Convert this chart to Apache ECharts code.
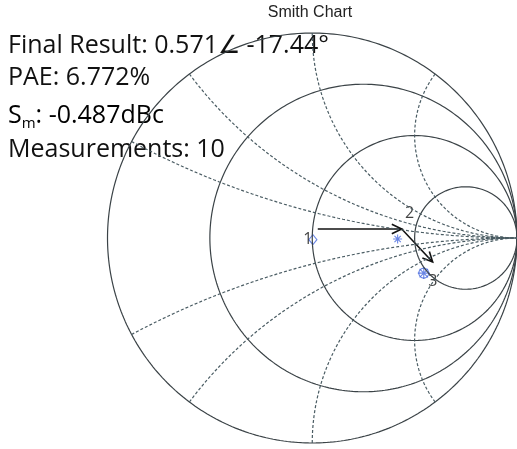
<!DOCTYPE html>
<html>
<head>
<meta charset="utf-8">
<script src="https://cdn.jsdelivr.net/npm/echarts@6/dist/echarts.min.js"></script>
<style>
  html, body { margin: 0; padding: 0; background: #ffffff; }
  #chart { width: 517px; height: 449px; }
</style>
</head>
<body>
<div id="chart"></div>
<script>
// Smith chart grid: constant-resistance circles and constant-reactance arcs
const resistanceCircles = [0, 1 / 3, 1, 3];
const reactanceArcs = [0.25, 0.5, 1, 2, -0.25, -0.5, -1, -2];

// Reflection coefficient states of the tuning run (real, imag)
const startState = [0.003, -0.008];
const probeState = [0.417, -0.005];
const finalMagnitude = 0.571;
const finalAngleDeg = -17.44;

// Tuner movement path drawn as arrows (real, imag)
const movePath = [[0.027, 0.044], [0.437, 0.044], [0.588, -0.117]];

// State numbers shown beside the markers
const stateLabels = ['1', '2', '3'];

// Result summary text
const resultLines = {
  result: 'Final Result: 0.571\u2220 -17.44\u00b0',
  pae: 'PAE: 6.772%',
  smLabel: 'S',
  smSub: 'm',
  smValue: ': -0.487dBc',
  count: 'Measurements: 10'
};
const titleText = 'Smith Chart';

// ---- geometry of the grid curves ----
function resistanceCurve(r) {
  const c = r / (1 + r), rad = 1 / (1 + r), pts = [];
  for (let d = 0; d <= 360; d += 1) {
    const a = d * Math.PI / 180;
    pts.push([c + rad * Math.cos(a), rad * Math.sin(a)]);
  }
  return pts;
}
function reactanceCurve(x) {
  const pts = [];
  for (let t = 0; t < 1; t += 0.002) {
    const r = t / (1 - t);
    const den = (r + 1) * (r + 1) + x * x;
    pts.push([(r * r - 1 + x * x) / den, 2 * x / den]);
  }
  pts.push([1, 0]);
  return pts;
}

const solidColor = '#3b4347';
const dashColor = '#4a5c63';
const markerBlue = '#4466dd';

const series = [];
resistanceCircles.forEach(function (r) {
  series.push({
    type: 'line', data: resistanceCurve(r), showSymbol: false, silent: true,
    clip: false, lineStyle: { color: solidColor, width: 1.2 }
  });
});
reactanceArcs.forEach(function (x) {
  series.push({
    type: 'line', data: reactanceCurve(x), showSymbol: false, silent: true,
    clip: false, lineStyle: { color: dashColor, width: 1.2, type: [3, 2] }
  });
});

// movement arrows with open heads
const segments = [];
for (let i = 0; i < movePath.length - 1; i++) {
  segments.push([movePath[i][0], movePath[i][1], movePath[i + 1][0], movePath[i + 1][1]]);
}
series.push({
  type: 'custom', data: segments, silent: true, clip: false,
  renderItem: function (params, api) {
    const a = api.coord([api.value(0), api.value(1)]);
    const b = api.coord([api.value(2), api.value(3)]);
    const ang = Math.atan2(b[1] - a[1], b[0] - a[0]);
    const len = 11, spread = 0.45;
    const h1 = [b[0] - len * Math.cos(ang - spread), b[1] - len * Math.sin(ang - spread)];
    const h2 = [b[0] - len * Math.cos(ang + spread), b[1] - len * Math.sin(ang + spread)];
    const st = { stroke: '#111111', lineWidth: 1.6, fill: null };
    return {
      type: 'group',
      children: [
        { type: 'line', shape: { x1: a[0], y1: a[1], x2: b[0], y2: b[1] }, style: st },
        { type: 'polyline', shape: { points: [h1, b, h2] }, style: st }
      ]
    };
  }
});

const asteriskPath = 'path://M5,0L5,10M0,5L10,5M1.5,1.5L8.5,8.5M1.5,8.5L8.5,1.5';
const finalState = [
  finalMagnitude * Math.cos(finalAngleDeg * Math.PI / 180),
  finalMagnitude * Math.sin(finalAngleDeg * Math.PI / 180)
];
const labelStyle = { show: true, color: '#111111', fontFamily: 'Open Sans', fontSize: 16 };

series.push({
  type: 'scatter', silent: true, clip: false,
  data: [{ value: startState, label: Object.assign({ formatter: stateLabels[0], position: 'inside', offset: [-5, 0] }, labelStyle) }],
  symbol: 'diamond', symbolSize: [8, 10],
  itemStyle: { color: 'rgba(0,0,0,0)', borderColor: markerBlue, borderWidth: 1.2 }
});
series.push({
  type: 'scatter', silent: true, clip: false,
  data: [{ value: probeState, label: Object.assign({ formatter: stateLabels[1], position: 'inside', offset: [12, -26] }, labelStyle) }],
  symbol: asteriskPath, symbolSize: 9,
  itemStyle: { color: 'rgba(0,0,0,0)', borderColor: markerBlue, borderWidth: 1.1 }
});
series.push({
  type: 'scatter', silent: true, clip: false,
  data: [{ value: finalState, label: Object.assign({ formatter: stateLabels[2], position: 'inside', offset: [9, 8] }, labelStyle) }],
  symbol: 'circle', symbolSize: 10,
  itemStyle: { color: 'rgba(0,0,0,0)', borderColor: markerBlue, borderWidth: 1.1 }
});
series.push({
  type: 'scatter', silent: true, clip: false,
  data: [finalState],
  symbol: asteriskPath, symbolSize: 12,
  itemStyle: { color: 'rgba(0,0,0,0)', borderColor: markerBlue, borderWidth: 1.1 }
});

const textFont = '"Open Sans"';
const textSize = 25;
const chart = echarts.init(document.getElementById('chart'), null, { renderer: 'canvas' });
chart.setOption({
  animation: false,
  backgroundColor: '#ffffff',
  grid: { left: 107.5, top: 33, width: 410, height: 410 },
  xAxis: { type: 'value', min: -1, max: 1, show: false },
  yAxis: { type: 'value', min: -1, max: 1, show: false },
  graphic: [
    { type: 'text', x: 310, y: 13, style: { text: titleText, font: '16px "Liberation Sans"', fill: '#222222', align: 'center', verticalAlign: 'middle' } },
    { type: 'text', x: 8, y: 46, style: { text: resultLines.result, fontFamily: textFont, fontSize: textSize, fill: '#111111', verticalAlign: 'middle' } },
    { type: 'text', x: 8, y: 78, style: { text: resultLines.pae, fontFamily: textFont, fontSize: textSize, fill: '#111111', verticalAlign: 'middle' } },
    { type: 'text', x: 8, y: 116, style: {
        text: '{s|' + resultLines.smLabel + '}{b|' + resultLines.smSub + '}{s|' + resultLines.smValue + '}',
        verticalAlign: 'middle',
        rich: {
          s: { fontFamily: textFont, fontSize: textSize, color: '#111111', lineHeight: 30 },
          b: { fontFamily: textFont, fontSize: 15, color: '#2255cc', lineHeight: 14, verticalAlign: 'bottom' }
        }
      } },
    { type: 'text', x: 8, y: 150, style: { text: resultLines.count, fontFamily: textFont, fontSize: textSize, fill: '#111111', verticalAlign: 'middle' } }
  ],
  series: series
});
</script>
</body>
</html>
